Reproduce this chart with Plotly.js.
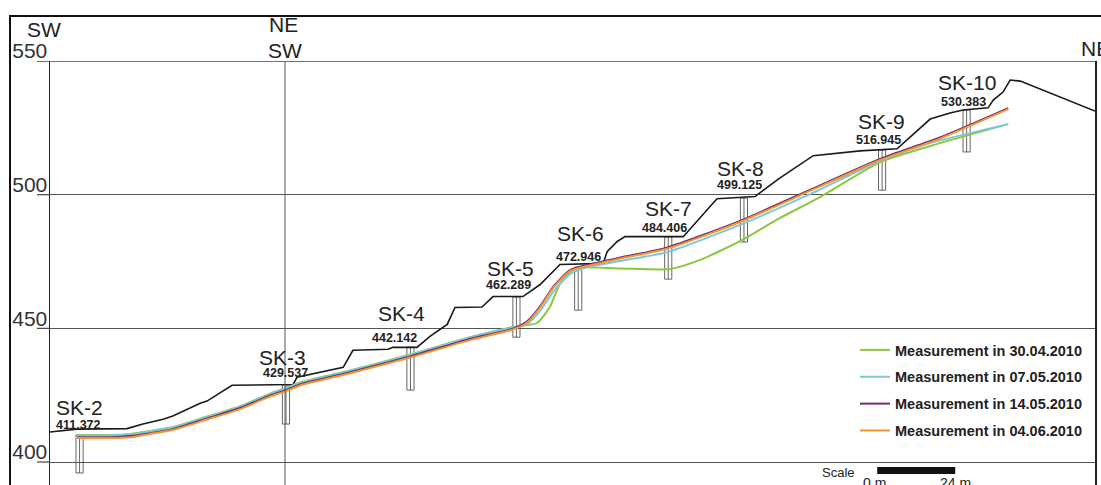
<!DOCTYPE html>
<html><head><meta charset="utf-8">
<script src="https://cdn.plot.ly/plotly-3.0.1.min.js"></script>
<style>html,body{margin:0;padding:0;background:#fff;overflow:hidden}#chart{width:1101px;height:485px}</style>
</head><body><div id="chart"></div>
<script>
// ---- data (distance along section in m, elevation in m) ----
const terrainDist = [0, 8.3, 23.7, 28.6, 34.8, 37.8, 46.2, 48.3, 56.0, 74.8, 76.0, 90.2, 93.2, 104.0, 105.5, 112.9, 116.9, 122.2, 124.6, 132.9, 136.3, 145.5, 150.8, 156.9, 170.2, 171.4, 174.5, 176.9, 194.8, 205.2, 216.9, 224.6, 234.8, 249.2, 260.6, 264.6, 270.8, 276.9, 280.9, 288.6, 290.2, 293.2, 295.4, 298.5, 321.5];
const terrainElev = [411.2, 412.3, 412.5, 414.2, 416.0, 417.2, 422.0, 422.8, 428.7, 429.0, 431.7, 435.4, 441.8, 442.2, 442.9, 442.9, 447.0, 451.5, 457.8, 458.0, 461.9, 461.9, 466.4, 473.9, 474.3, 478.7, 482.5, 484.3, 484.3, 498.5, 499.3, 506.3, 514.6, 516.4, 517.2, 521.6, 528.3, 530.6, 531.7, 532.5, 535.4, 538.4, 542.9, 542.5, 531.3];

const dist_30_04 = [8.3, 18.5, 24.6, 30.8, 37.8, 48.3, 58.5, 67.7, 72.6, 77.8, 91.4, 110.8, 129.2, 142.5, 149.8, 153.8, 156.9, 161.5, 175.4, 190.8, 200.0, 212.9, 224.6, 236.9, 255.4, 273.8, 294.8];
const elev_30_04 = [410.1, 410.1, 410.5, 411.6, 413.1, 417.0, 420.9, 425.6, 427.7, 430.1, 434.0, 440.2, 446.7, 450.5, 452.0, 458.0, 466.6, 472.4, 472.4, 472.2, 475.6, 483.0, 491.3, 499.1, 512.2, 519.3, 526.4];

const dist_07_05 = [8.3, 18.5, 24.6, 30.8, 37.8, 48.3, 58.5, 67.7, 72.6, 77.8, 91.4, 110.8, 129.2, 142.5, 146.8, 150.8, 154.8, 160.0, 165.2, 175.4, 189.8, 212.3, 233.8, 255.4, 270.8, 294.8];
const elev_07_05 = [409.9, 409.9, 410.3, 411.4, 412.9, 416.8, 420.7, 425.4, 427.5, 429.9, 433.8, 440.0, 446.6, 450.5, 451.6, 456.5, 463.6, 470.3, 472.8, 475.2, 478.5, 488.7, 500.2, 512.6, 519.3, 526.4];

const dist_14_05 = [8.3, 18.5, 24.6, 30.8, 37.8, 48.3, 58.5, 67.7, 72.6, 77.8, 91.4, 110.8, 129.2, 142.5, 146.8, 150.8, 154.8, 160.0, 165.2, 175.4, 189.8, 212.3, 233.8, 255.4, 273.8, 294.8];
const elev_14_05 = [409.3, 409.3, 409.7, 410.8, 412.3, 416.3, 420.2, 424.9, 426.9, 429.4, 433.3, 439.5, 446.0, 449.9, 452.6, 458.2, 465.5, 471.8, 473.7, 476.5, 480.2, 490.2, 501.8, 513.4, 521.4, 532.4];

const dist_04_06 = [8.3, 18.5, 24.6, 30.8, 37.8, 48.3, 58.5, 67.7, 72.6, 77.8, 91.4, 110.8, 129.2, 142.5, 146.8, 150.8, 154.8, 160.0, 165.2, 175.4, 189.8, 212.3, 233.8, 255.4, 273.8, 294.8];
const elev_04_06 = [409.0, 409.0, 409.3, 410.5, 412.0, 415.9, 419.8, 424.5, 426.5, 429.0, 432.9, 439.1, 445.6, 449.6, 452.2, 457.8, 465.1, 471.4, 473.3, 476.1, 479.8, 489.8, 501.4, 513.0, 521.0, 532.0];

const seriesNames = ['Measurement in 30.04.2010', 'Measurement in 07.05.2010', 'Measurement in 14.05.2010', 'Measurement in 04.06.2010'];

const boreholeNames = ['SK-2', 'SK-3', 'SK-4', 'SK-5', 'SK-6', 'SK-7', 'SK-8', 'SK-9', 'SK-10'];
const boreholeDist = [9.1, 72.6, 110.9, 143.5, 162.5, 190.2, 213.5, 256.0, 282.0];
const boreholeTop = [410.1, 428.8, 443.0, 461.7, 472.9, 484.2, 498.7, 516.7, 531.7];
const boreholeBottom = [395.9, 414.2, 426.9, 446.7, 456.8, 468.4, 482.3, 501.7, 516.0];
const boreholeElevLabel = ['411.372', '429.537', '442.142', '462.289', '472.946', '484.406', '499.125', '516.945', '530.383'];

const elevTicks = [400, 450, 500, 550];
const bendDist = 72.3;      // SW/NE bend of the section
const scaleLength = 24;     // m
const scaleStart = 254.5;   // m

// ---- styles / layout tweaks ----
const FONT = 'Liberation Sans, Arial, sans-serif';
const colors = ['#8dc63f', '#7cc8de', '#6e2c74', '#f39533'];
const BH_HALF = 1.1;
const nameDy = [28, 28, 34, 29, 34, 28, 30, 29, 27];
const nameDx = [0, -3, -9, -6, 2, 0, -3, -1, 0];
const valDy = [10, 12, 9, 12, 10, 9, 13, 10, 8];
const valDx = [-1, 0, -16, -8, 0, -4, -4, -4, -3];

const traces = [];
// boreholes
const bx = [], by = [];
boreholeDist.forEach((d, i) => {
  bx.push(d - BH_HALF, d + BH_HALF, d + BH_HALF, d - BH_HALF, d - BH_HALF, null, d, d, null);
  by.push(boreholeTop[i], boreholeTop[i], boreholeBottom[i], boreholeBottom[i], boreholeTop[i], null, boreholeTop[i], boreholeBottom[i], null);
});
traces.push({x: bx, y: by, mode: 'lines', line: {color: '#555', width: 0.9}, showlegend: false, hoverinfo: 'skip'});
// terrain
traces.push({x: terrainDist, y: terrainElev, mode: 'lines', line: {color: '#1a1a1a', width: 1.6}, showlegend: false, hoverinfo: 'skip'});
// measurements
const sx = [dist_30_04, dist_07_05, dist_14_05, dist_04_06];
const sy = [elev_30_04, elev_07_05, elev_14_05, elev_04_06];
sx.forEach((xs, i) => {
  traces.push({x: xs, y: sy[i], mode: 'lines', name: seriesNames[i], legendgroup: 'g' + i,
    line: {color: colors[i], width: 2, shape: 'spline', smoothing: 0.6}, hoverinfo: 'skip'});
});

const annotations = [];
boreholeNames.forEach((n, i) => {
  annotations.push({x: boreholeDist[i], y: boreholeTop[i], xref: 'x', yref: 'y', text: n, showarrow: false,
    xshift: nameDx[i], yshift: nameDy[i], xanchor: 'center', yanchor: 'middle',
    font: {family: FONT, size: 21, color: '#222'}});
  annotations.push({x: boreholeDist[i], y: boreholeTop[i], xref: 'x', yref: 'y', text: boreholeElevLabel[i], showarrow: false,
    xshift: valDx[i], yshift: valDy[i], xanchor: 'center', yanchor: 'middle',
    font: {family: FONT, size: 12.5, color: '#222', weight: 'bold'}});
});
const px = p => (p - 50) / 1045, py = p => (485 - p) / 424;
const dirFont = {family: FONT, size: 21, color: '#222'};
annotations.push({x: px(44), y: py(30), xref: 'paper', yref: 'paper', text: 'SW', showarrow: false, xanchor: 'center', yanchor: 'middle', font: dirFont});
annotations.push({x: px(283), y: py(25), xref: 'paper', yref: 'paper', text: 'NE', showarrow: false, xanchor: 'center', yanchor: 'middle', font: dirFont});
annotations.push({x: px(285), y: py(50), xref: 'paper', yref: 'paper', text: 'SW', showarrow: false, xanchor: 'center', yanchor: 'middle', font: dirFont});
annotations.push({x: px(1079), y: py(49), xref: 'paper', yref: 'paper', text: 'NE', showarrow: false, xanchor: 'left', yanchor: 'middle', font: dirFont});
// scale
annotations.push({x: px(857), y: py(472), xref: 'paper', yref: 'paper', text: 'Scale', showarrow: false, xanchor: 'right', yanchor: 'middle', font: {family: FONT, size: 13, color: '#222'}});
annotations.push({x: scaleStart, y: py(483), xref: 'x', yref: 'paper', text: '0 m', showarrow: false, xanchor: 'center', yanchor: 'middle', xshift: -3, font: {family: FONT, size: 14, color: '#222'}});
annotations.push({x: scaleStart + scaleLength, y: py(483), xref: 'x', yref: 'paper', text: scaleLength + ' m', showarrow: false, xanchor: 'center', yanchor: 'middle', font: {family: FONT, size: 14, color: '#222'}});

const shapes = [];
// outer frame
shapes.push({type: 'path', xref: 'paper', yref: 'paper', path: `M ${px(10)} ${py(490)} L ${px(10)} ${py(16)} L ${px(1105)} ${py(16)}`, line: {color: '#111', width: 2}});
// bend line
shapes.push({type: 'line', xref: 'x', yref: 'paper', x0: bendDist, x1: bendDist, y0: 0, y1: 0.9999, line: {color: '#555', width: 1}});
// tick stubs (and the top line at the highest tick)
elevTicks.forEach(t => shapes.push({type: 'line', xref: 'paper', yref: 'y', x0: -13 / 1045, x1: t === Math.max(...elevTicks) ? 1 : 0, y0: t, y1: t, line: {color: '#444', width: 1.2}}));
// scale bar
shapes.push({type: 'rect', xref: 'x', yref: 'paper', x0: scaleStart, x1: scaleStart + scaleLength, y0: py(474), y1: py(467), fillcolor: '#111', line: {width: 0}});

const layout = {
  width: 1101, height: 485,
  margin: {l: 50, r: 6, t: 61, b: 0, pad: 0},
  paper_bgcolor: '#fff', plot_bgcolor: '#fff',
  showlegend: true,
  legend: {x: px(855), y: py(334), xanchor: 'left', yanchor: 'top', bgcolor: 'rgba(0,0,0,0)',
    font: {family: FONT, size: 14.5, color: '#222', weight: 'bold'}, tracegroupgap: 5, itemwidth: 30},
  xaxis: {range: [0, 321.5], showgrid: false, zeroline: false, showline: false, showticklabels: false, ticks: '', fixedrange: true},
  yaxis: {range: [391.4, 550.02], tickvals: elevTicks, ticktext: elevTicks.map(String), ticks: '',
    showgrid: true, gridcolor: '#555', gridwidth: 1, zeroline: false,
    showline: true, linecolor: '#222', linewidth: 1.5, mirror: true,
    ticklabelshift: -10, ticklabelstandoff: -3,
    tickfont: {family: FONT, size: 21, color: '#333'}, fixedrange: true},
  annotations: annotations, shapes: shapes, hovermode: false
};
Plotly.newPlot('chart', traces, layout, {staticPlot: true, displayModeBar: false});
</script></body></html>
